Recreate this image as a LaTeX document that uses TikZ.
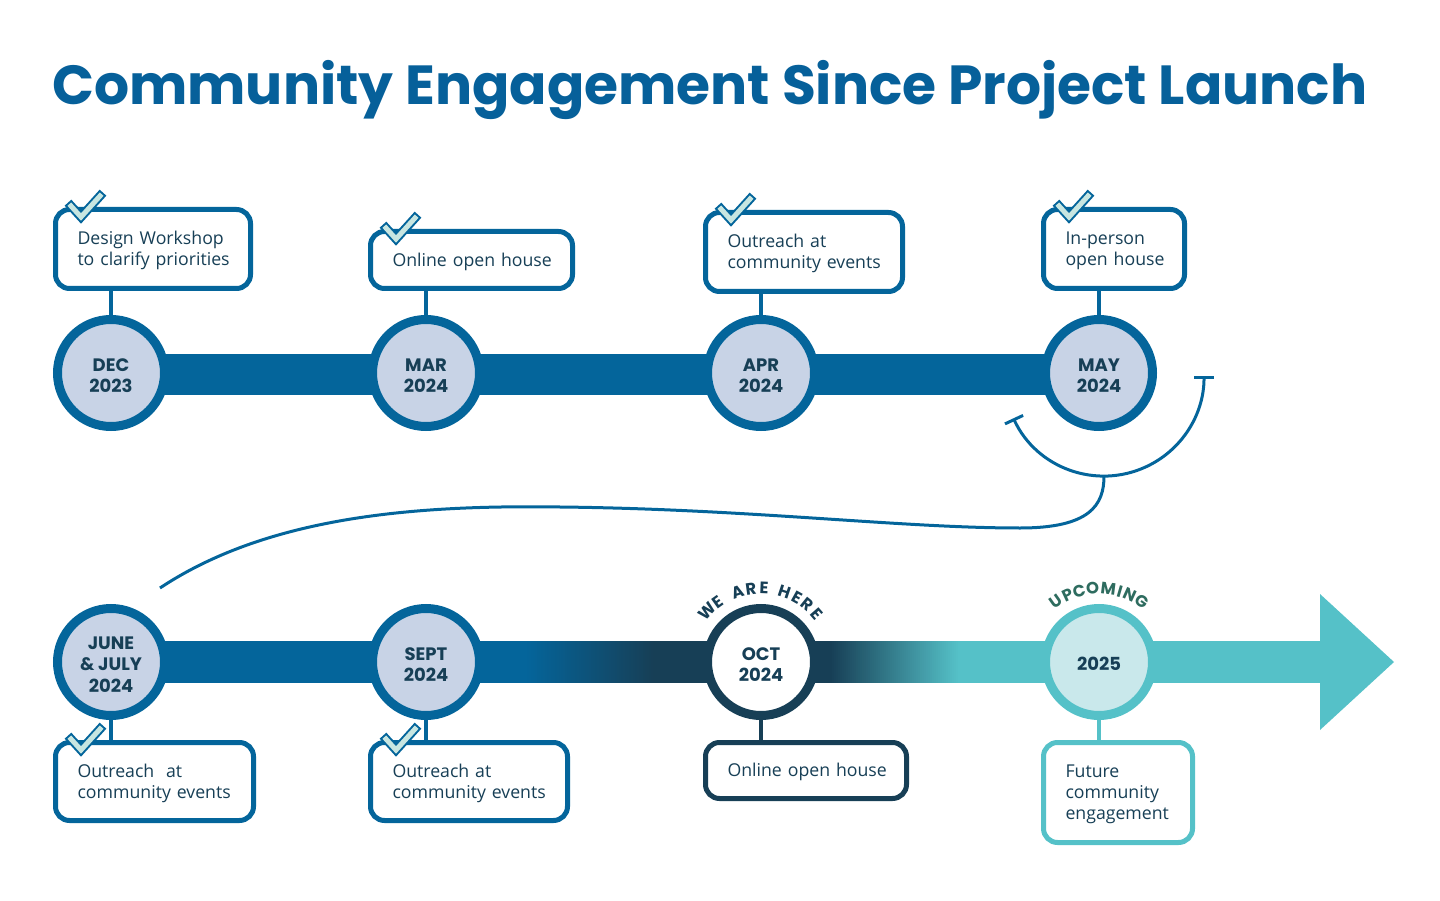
\documentclass[tikz,border=0pt]{standalone}
\usepackage{fontspec}
\setmainfont{Open Sans}
\newfontfamily\hd{Poppins}
\usetikzlibrary{arrows.meta,backgrounds,calc}
\definecolor{cblue}{HTML}{04659B}
\definecolor{clight}{HTML}{C8D3E6}
\definecolor{cnavy}{HTML}{173F56}
\definecolor{cteal}{HTML}{55C1C8}
\definecolor{cltteal}{HTML}{C9E8EB}
\definecolor{ccheck}{HTML}{C8E6E1}
\definecolor{cgreen}{HTML}{2E6C5F}
\definecolor{ctitle}{HTML}{06609A}
\newcommand{\ml}[1]{\raisebox{-4.5pt}[\height][\depth]{\begin{tabular}{@{}c@{}}#1\end{tabular}}}
\newcommand{\oneline}[1]{\raisebox{-1.5pt}[\height][\depth]{\mbox{#1}}}
\begin{document}
\begin{tikzpicture}[x=1pt,y=-1pt,
  milestone/.style={circle, minimum size=107pt, line width=9pt, draw=cblue, fill=clight,
    inner sep=0pt, align=center, text=cnavy, font=\hd\bfseries\fontsize{18}{21.5}\selectfont},
  box/.style={rectangle, rounded corners=14pt, draw=cblue, line width=5pt, fill=white,
    align=left, inner xsep=22pt, inner ysep=0pt, text=cnavy, font=\fontsize{17.7}{21}\selectfont},
  stem/.style={line width=4pt, draw=cblue},
  arctext/.style={anchor=base, inner sep=0pt, font=\hd\bfseries\fontsize{16.5}{16}\selectfont},
  connector/.style={draw=cblue, line width=3pt},
  chkout/.style={draw=cblue, line width=9pt, line join=miter, line cap=rect},
  chkin/.style={draw=ccheck, line width=5pt, line join=miter, line cap=rect}
]
\useasboundingbox (0,0) rectangle (1440,901);

% title
\node[anchor=base west, inner sep=0pt, text=ctitle, font=\hd\bfseries\fontsize{55.1}{60}\selectfont] (title) at (52,105) {Community Engagement Since Project Launch};

% milestones top
\node[milestone] (c1) at (111,373) {\ml{DEC\\2023}};
\node[milestone] (c2) at (426,373) {\ml{MAR\\2024}};
\node[milestone] (c3) at (761,373) {\ml{APR\\2024}};
\node[milestone] (c4) at (1099,373) {\ml{MAY\\2024}};
% milestones bottom
\node[milestone] (c5) at (111,662) {\ml{JUNE\\\& JULY\\2024}};
\node[milestone] (c6) at (426,662) {\ml{SEPT\\2024}};
\node[milestone, draw=cnavy, fill=white] (c7) at (761,662) {\ml{OCT\\2024}};
\node[milestone, draw=cteal, fill=cltteal] (c8) at (1099,662) {\ml{2025}};

% boxes
\node[box, text width=151pt, minimum height=79pt] (b1) at (153,249) {\oneline{Design Workshop}\\\oneline{to clarify priorities}};
\node[box, text width=158pt, minimum height=57pt] (b2) at (471.5,260) {\oneline{Online open house}};
\node[box, text width=153pt, minimum height=79pt] (b3) at (804,252) {\oneline{Outreach at}\\\oneline{community events}};
\node[box, text width=97pt, minimum height=79pt] (b4) at (1114,249) {\oneline{In-person}\\\oneline{open house}};
\node[box, text width=154pt, minimum height=78pt] (b5) at (154.5,781.5) {\oneline{Outreach\ \ at}\\\oneline{community events}};
\node[box, text width=153pt, minimum height=78pt] (b6) at (469,781.5) {\oneline{Outreach at}\\\oneline{community events}};
\node[box, draw=cnavy, text width=157pt, minimum height=56pt] (b7) at (806,770.5) {\oneline{Online open house}};
\node[box, draw=cteal, text width=105pt, minimum height=100pt] (b8) at (1118,792.5) {\oneline{Future}\\\oneline{community}\\\oneline{engagement}};

% check marks
\foreach \x/\y in {81/217, 396/239, 731/220, 1069/217, 81/750, 396/750}{
  \draw[chkout] (\x-10,\y-11) -- (\x,\y) -- (\x+19,\y-21);
  \draw[chkin] (\x-10,\y-11) -- (\x,\y) -- (\x+19,\y-21);
}

% curved labels
\foreach \a/\l in {137/W,125.5/E,108.5/A,97.8/R,87.7/E,71.5/H,61/E,51/R,41/E}
  \node[arctext, text=cnavy, rotate=\a-90] at ([shift={(\a:68pt)}]c7.center) {\l};
\foreach \a/\l in {125.3/U,115.2/P,105.6/C,95/O,82.8/M,73.7/I,65.5/N,54.7/G}
  \node[arctext, text=cgreen, rotate=\a-90] at ([shift={(\a:68pt)}]c8.center) {\l};

% connector between rows
\coordinate (arcL) at (1013.4,418.3);
\coordinate (arcbot) at (1104,476);
\coordinate (p3) at (1020,528);
\coordinate (p2) at (560,507);
\coordinate (p1) at (160,588);
\draw[connector, {Bar[width=20pt]}-{Bar[width=20pt]}] (arcL) arc[start angle=205, end angle=360, radius=100pt];
\draw[connector] (arcbot) .. controls (1104,505) and (1090,528) .. (p3)
  .. controls (900,528) and (750,509) .. (p2)
  .. controls (420,505) and (270,515) .. (p1);

\begin{pgfonlayer}{background}
  % bars
  \fill[cblue] (111,353.5) rectangle (1099,394.5);
  \fill[cblue] (111,641) rectangle (526,683);
  \fill[cnavy] (654,641) rectangle (831,683);
  \fill[cteal] (957,641) rectangle (1321,683);
  \foreach \i in {0,...,64}{
    \pgfmathsetmacro\p{\i/64*100}
    \fill[cnavy!\p!cblue] (525+2*\i,641) rectangle (527.8+2*\i,683);
    \fill[cteal!\p!cnavy] (830+2*\i,641) rectangle (832.8+2*\i,683);
  }
  \fill[cteal] (1320,594) coordinate (ah1) -- (1394,662) coordinate (tip) -- (1320,730) coordinate (ah2) -- cycle;
  % stems
  \foreach \i in {1,2,3,4,5,6}{\draw[stem] (c\i.center) -- (c\i |- b\i.center);}
  \draw[stem, draw=cnavy] (c7.center) -- (c7 |- b7.center);
  \draw[stem, draw=cteal] (c8.center) -- (c8 |- b8.center);
\end{pgfonlayer}
\end{tikzpicture}
\end{document}
